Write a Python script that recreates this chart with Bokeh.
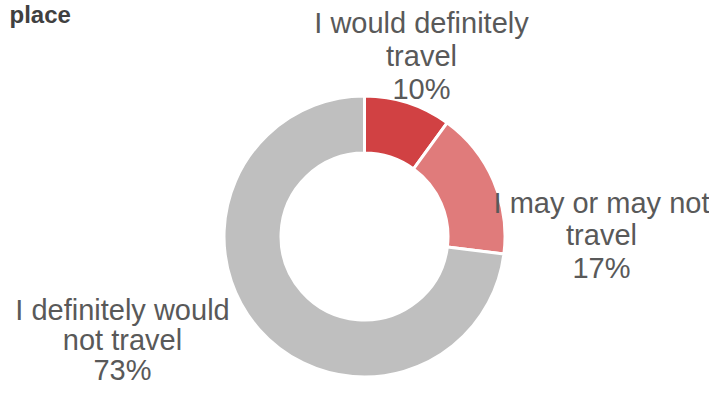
import numpy as np
from bokeh.plotting import figure
from bokeh.models import ColumnDataSource, Range1d
from bokeh.core.properties import value
from bokeh.embed import file_html
from bokeh.resources import INLINE

# ---- data ----
categories = ["I would definitely travel", "I may or may not travel", "I definitely would not travel"]
label_lines = [["I would definitely", "travel"], ["I may or may not", "travel"], ["I definitely would", "not travel"]]
shares = [10, 17, 73]
title_text = "place"

# ---- style / layout ----
colors = ["#D14143", "#E07B7B", "#BFBFBF"]
text_color = "#595959"
W, H = 709, 385
TOP = 401                        # data y of the picture's top edge (y up)
cx, cy = 364, TOP - 236          # donut centre
r_out, r_in = 140.5, 83.5
label_x = [421, 601, 122]
label_first_base = [32, 212, 319]   # picture y of first baseline
line_step = [33, 32.5, 30]
lab_shift = 10                   # compensation for svg baseline placement (29px)
title_shift = 8                  # same for 24px
title_base = 22

p = figure(width=W, height=H, output_backend="svg", toolbar_location=None,
           x_range=Range1d(0, W), y_range=Range1d(TOP - H, TOP),
           min_border=0, outline_line_color=None)
p.axis.visible = False
p.grid.visible = False
p.background_fill_color = "white"
p.border_fill_color = "white"

vals = np.array(shares, dtype=float)
frac = vals / vals.sum()
cum = np.concatenate([[0], np.cumsum(frac)])
start = np.pi / 2 - 2 * np.pi * cum[:-1]
end = np.pi / 2 - 2 * np.pi * cum[1:]

src = ColumnDataSource(dict(start=start, end=end, color=colors, cat=categories))
p.annular_wedge(x=cx, y=cy, inner_radius=r_in, outer_radius=r_out,
                start_angle="start", end_angle="end", direction="clock",
                fill_color="color", line_color="white", line_width=3, source=src)

# labels, one row per line
tx, ty, tt = [], [], []
for i, lines in enumerate(label_lines):
    all_lines = lines + [f"{shares[i]}%"]
    for j, ln in enumerate(all_lines):
        tx.append(label_x[i])
        ty.append(TOP - (label_first_base[i] + j * line_step[i] - lab_shift))
        tt.append(ln)
p.text(x="x", y="y", text="t", source=ColumnDataSource(dict(x=tx, y=ty, t=tt)),
       text_font=value("Liberation Sans"), text_font_size="29px",
       text_color=text_color, text_align="center", text_baseline="alphabetic")

p.text(x=[9], y=[TOP - (title_base - title_shift)], text=[title_text], text_font=value("Liberation Sans"),
       text_font_size="24px", text_font_style="bold", text_color="#404040",
       text_align="left", text_baseline="alphabetic")

open("out.html", "w").write(file_html(p, INLINE))
